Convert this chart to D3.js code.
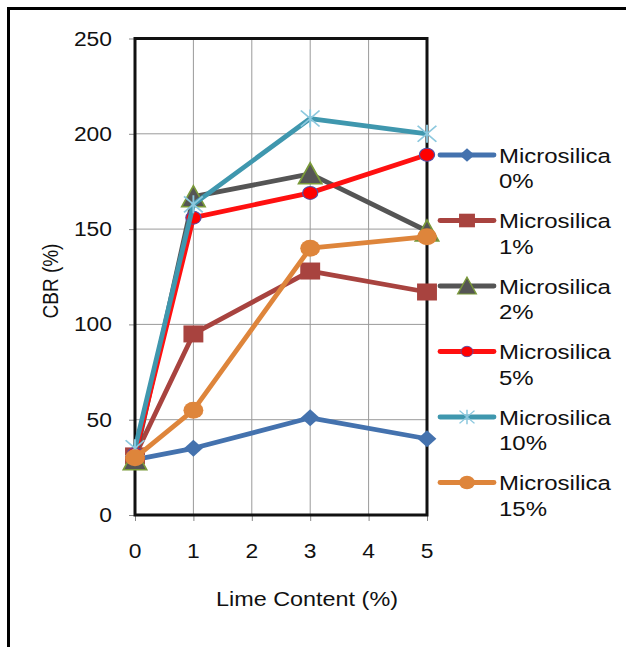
<!DOCTYPE html>
<html>
<head>
<meta charset="utf-8">
<script src="https://cdn.jsdelivr.net/npm/d3@7/dist/d3.min.js"></script>
<style>
  html, body { margin: 0; padding: 0; background: #fff; }
  svg { display: block; }
  text { font-family: "Liberation Sans", Arial, sans-serif; fill: #111; }
</style>
</head>
<body>
<svg id="chart" width="626" height="647"></svg>
<script>
// Lime content (x) and CBR values (%) for each microsilica dosage
const limeContent = [0, 1, 3, 5];
const seriesNames = ["Microsilica 0%", "Microsilica 1%", "Microsilica 2%", "Microsilica 5%", "Microsilica 10%", "Microsilica 15%"];
const cbrMS0  = [29, 35, 51, 40];
const cbrMS1  = [31, 95, 128, 117];
const cbrMS2  = [29, 167, 179, 149];
const cbrMS5  = [32, 156, 169, 189];
const cbrMS10 = [35, 163, 208, 200];
const cbrMS15 = [30, 55, 140, 146];
const xTicks = [0, 1, 2, 3, 4, 5];
const yTicks = [0, 50, 100, 150, 200, 250];

const seriesValues = [cbrMS0, cbrMS1, cbrMS2, cbrMS5, cbrMS10, cbrMS15];

// visual style per series
const styles = [
  { line: "#4472AE", marker: "diamond",  fill: "#4472AE", stroke: "#4472AE" },
  { line: "#A8433F", marker: "square",   fill: "#A8433F", stroke: "#A8433F" },
  { line: "#555555", marker: "triangle", fill: "#555555", stroke: "#7A9A3A" },
  { line: "#FF1010", marker: "circleS",  fill: "#FF0000", stroke: "#5050A8" },
  { line: "#3F97AE", marker: "star",     fill: "none",    stroke: "#8CC8DE" },
  { line: "#DE853B", marker: "circle",   fill: "#DE853B", stroke: "#DE853B" }
];

const SX = 1.17; // horizontal stretch of the drawing

const svg = d3.select("#chart");

// outer frame
svg.append("path")
  .attr("d", "M8.5,647 V8.5 H626")
  .attr("fill", "none").attr("stroke", "#000").attr("stroke-width", 3);

const x = d3.scaleLinear().domain([0, 5]).range([135, 427]);
const y = d3.scaleLinear().domain([0, 250]).range([515, 38.5]);

function stretchedText(g, px, py, str, size, anchor) {
  return g.append("text")
    .attr("transform", `translate(${px},${py}) scale(${SX},1)`)
    .attr("text-anchor", anchor || "start")
    .style("font-size", size + "px")
    .text(str);
}

// gridlines
const grid = svg.append("g");
grid.selectAll("line.v").data(xTicks.slice(1, -1)).join("line")
  .attr("x1", d => x(d)).attr("x2", d => x(d))
  .attr("y1", y(0)).attr("y2", y(250))
  .attr("stroke", "#9a9a9a").attr("stroke-width", 1);
grid.selectAll("line.h").data(yTicks.slice(1, -1)).join("line")
  .attr("x1", x(0)).attr("x2", x(5))
  .attr("y1", d => y(d)).attr("y2", d => y(d))
  .attr("stroke", "#9a9a9a").attr("stroke-width", 1);

// axes (ticks only; labels drawn stretched)
const yAxis = d3.axisLeft(y).tickValues(yTicks).tickSize(6).tickFormat("");
const xAxis = d3.axisBottom(x).tickValues(xTicks).tickSize(6).tickFormat("");
svg.append("g").attr("transform", `translate(${x(0)},0)`).call(yAxis)
  .call(g => g.select(".domain").remove())
  .call(g => g.selectAll("line").attr("stroke", "#888"));
svg.append("g").attr("transform", `translate(0,${y(0)})`).call(xAxis)
  .call(g => g.select(".domain").remove())
  .call(g => g.selectAll("line").attr("stroke", "#888"));

// plot border
svg.append("path")
  .attr("d", `M${x(0)},${y(0)} V${y(250)} H${x(5)} V${y(0)} Z`)
  .attr("fill", "none").attr("stroke", "#111").attr("stroke-width", 3);

// tick labels
const labels = svg.append("g");
yTicks.forEach(t => stretchedText(labels, 112, y(t) + 7, String(t), 19.5, "end"));
xTicks.forEach(t => stretchedText(labels, x(t), 558, String(t), 19.5, "middle"));

// axis titles
stretchedText(labels, 307, 606, "Lime Content (%)", 20, "middle");
labels.append("text")
  .attr("transform", `translate(58,281) rotate(-90) scale(1,${SX})`)
  .attr("text-anchor", "middle")
  .style("font-size", "19px")
  .text("CBR  (%)");

// marker drawing
function drawMarker(g, type, cx, cy, k, st) {
  const m = g.append("g").attr("transform", `translate(${cx},${cy}) scale(${SX * k},${k})`);
  if (type === "diamond") {
    m.append("path").attr("d", "M0,-8.5 L8,0 L0,8.5 L-8,0 Z").attr("fill", st.fill);
  } else if (type === "square") {
    m.append("rect").attr("x", -8.5).attr("y", -8.5).attr("width", 17).attr("height", 17).attr("fill", st.fill);
  } else if (type === "triangle") {
    m.append("path").attr("d", "M0,-11 L10,10 L-10,10 Z").attr("fill", st.fill)
      .attr("stroke", st.stroke).attr("stroke-width", 1.5);
  } else if (type === "circleS") {
    m.append("circle").attr("r", 6.5).attr("fill", st.fill).attr("stroke", st.stroke).attr("stroke-width", 1);
  } else if (type === "circle") {
    m.append("circle").attr("r", 8.5).attr("fill", st.fill);
  } else if (type === "star") {
    m.append("path").attr("d", "M-8,-8 L8,8 M-8,8 L8,-8 M0,-9 L0,9")
      .attr("fill", "none").attr("stroke", st.stroke).attr("stroke-width", 1.6);
  }
}

// series lines and markers
const line = d3.line().x(d => x(d[0])).y(d => y(d[1]));
seriesValues.forEach((vals, i) => {
  const st = styles[i];
  const pts = limeContent.map((lx, j) => [lx, vals[j]]);
  const g = svg.append("g");
  g.append("path").attr("d", line(pts))
    .attr("fill", "none").attr("stroke", st.line).attr("stroke-width", 4.8)
    .attr("stroke-linejoin", "round");
  pts.forEach(p => drawMarker(g, st.marker, x(p[0]), y(p[1]), 1, st));
});

// legend
const legend = svg.append("g");
seriesNames.forEach((name, i) => {
  const st = styles[i];
  const cy = 155 + i * 65.5;
  legend.append("line").attr("x1", 440).attr("x2", 494).attr("y1", cy).attr("y2", cy)
    .attr("stroke", st.line).attr("stroke-width", 4.8).attr("stroke-linecap", "round");
  drawMarker(legend, st.marker, 467, cy, 0.8, st);
  const parts = name.split(" ");
  stretchedText(legend, 499, cy + 7.5, parts[0], 20.5, "start");
  stretchedText(legend, 499, cy + 33, parts[1], 20.5, "start");
});
</script>
</body>
</html>
